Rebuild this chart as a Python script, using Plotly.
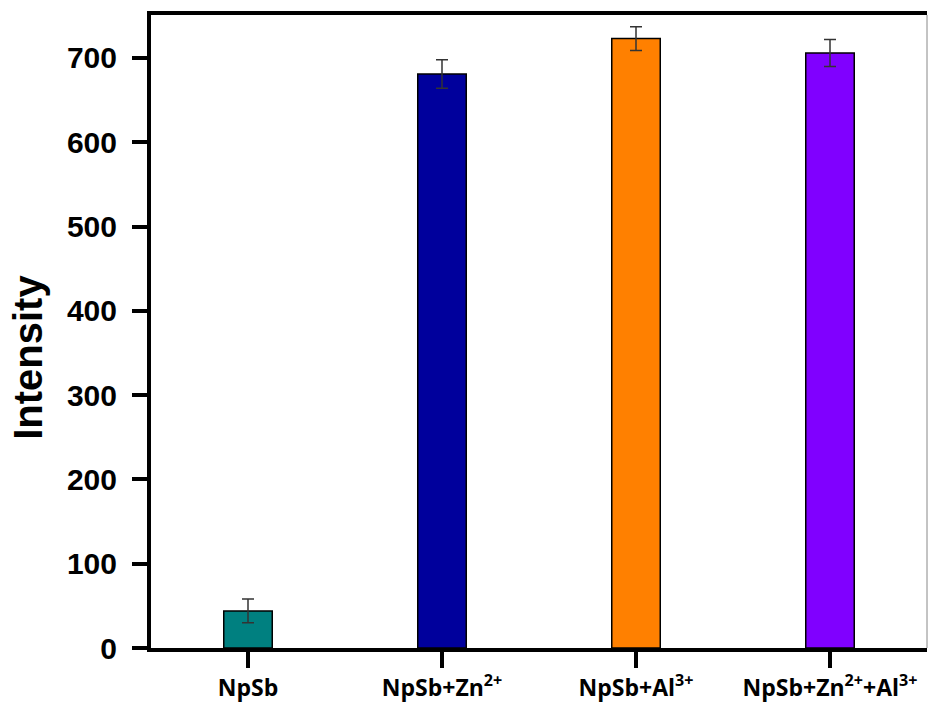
import plotly.graph_objects as go

# Sample groups and measured emission intensity (mean ± error)
categories = ["NpSb", "NpSb+Zn<sup>2+</sup>", "NpSb+Al<sup>3+</sup>", "NpSb+Zn<sup>2+</sup>+Al<sup>3+</sup>"]
intensity = [44, 681, 723, 706]
error = [14, 17, 14, 16]
bar_colors = ["#008080", "#00009C", "#FF8000", "#8000FF"]
y_ticks = [0, 100, 200, 300, 400, 500, 600, 700]

fig = go.Figure()
fig.add_trace(go.Bar(
    x=list(range(len(categories))),
    y=intensity,
    width=0.25,
    marker=dict(color=bar_colors, line=dict(color="#000000", width=1.5)),
    error_y=dict(type="data", array=error, visible=True,
                 color="#333333", thickness=1.5, width=6),
    showlegend=False,
))

fig.update_layout(
    width=928, height=709,
    margin=dict(l=151, r=1, t=15, b=61),
    paper_bgcolor="white", plot_bgcolor="white",
    xaxis=dict(
        range=[-0.5, 3.5],
        tickmode="array",
        tickvals=list(range(len(categories))),
        ticktext=categories,
        ticks="outside", ticklen=16, tickwidth=4, tickcolor="black",
        showline=True, linecolor="black", linewidth=4, mirror=True,
        showgrid=False, zeroline=False,
        tickfont=dict(family="Open Sans", size=23, color="black", weight="bold"),
    ),
    yaxis=dict(
        range=[0, 751],
        tickmode="array",
        tickvals=y_ticks,
        ticks="outside", ticklen=15, tickwidth=4, tickcolor="black",
        ticklabelstandoff=9,
        showline=True, linecolor="black", linewidth=4,
        showgrid=False, zeroline=False,
        tickfont=dict(family="Liberation Sans", size=30, color="black", weight="bold"),
    ),
    annotations=[dict(
        text="Intensity", textangle=-90, showarrow=False,
        xref="paper", yref="paper", x=-0.158, y=0.459,
        xanchor="center", yanchor="middle",
        font=dict(family="Liberation Sans", size=40, color="black", weight="bold"),
    )],
    shapes=[dict(type="line", xref="paper", yref="paper", x0=1, x1=1, y0=0, y1=1,
                 line=dict(color="#888888", width=1))],
)

fig.write_html("out.html")
